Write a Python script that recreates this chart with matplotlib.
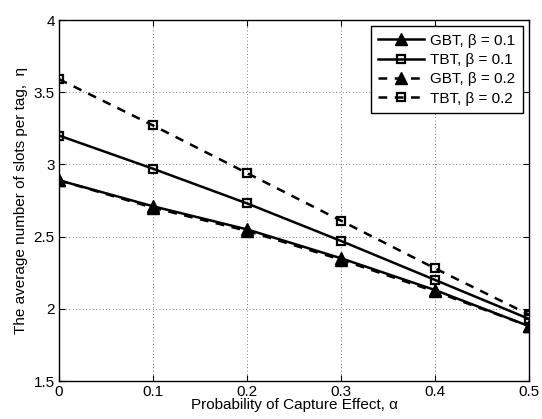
import matplotlib
matplotlib.use("Agg")
import matplotlib.pyplot as plt

plt.rcParams['font.family'] = ['Liberation Sans', 'DejaVu Sans']

alpha = [0, 0.1, 0.2, 0.3, 0.4, 0.5]
gbt_01 = [2.89, 2.71, 2.55, 2.35, 2.13, 1.88]
tbt_01 = [3.20, 2.97, 2.73, 2.47, 2.20, 1.93]
gbt_02 = [2.89, 2.70, 2.54, 2.34, 2.12, 1.88]
tbt_02 = [3.59, 3.27, 2.94, 2.61, 2.28, 1.96]
labels = ['GBT, β = 0.1', 'TBT, β = 0.1', 'GBT, β = 0.2', 'TBT, β = 0.2']

fig = plt.figure(figsize=(5.42, 4.19), dpi=100)
ax = fig.add_axes([59/542, 1-381/419, (529-59)/542, (381-20)/419])

lw = 1.8
ax.plot(alpha, gbt_01, '-', color='black', lw=lw, marker='^', ms=8, mfc='black', mec='black', label=labels[0])
ax.plot(alpha, tbt_01, '-', color='black', lw=lw, marker='s', ms=6, mfc='none', mec='black', mew=1.6, label=labels[1])
ax.plot(alpha, gbt_02, color='black', lw=lw, ls=(0, (3.5, 3)), marker='^', ms=8, mfc='black', mec='black', label=labels[2])
ax.plot(alpha, tbt_02, color='black', lw=lw, ls=(0, (3.5, 3)), marker='s', ms=6, mfc='none', mec='black', mew=1.6, label=labels[3])

ax.set_xlim(0, 0.5)
ax.set_ylim(1.5, 4)
ax.set_xticks([0, 0.1, 0.2, 0.3, 0.4, 0.5])
ax.set_xticklabels(['0', '0.1', '0.2', '0.3', '0.4', '0.5'])
ax.set_yticks([1.5, 2, 2.5, 3, 3.5, 4])
ax.set_yticklabels(['1.5', '2', '2.5', '3', '3.5', '4'])
ax.tick_params(direction='in', top=True, right=True, labelsize=11, length=4, width=0.8, pad=3)
ax.grid(True, ls=(0, (1, 3)), color='black', lw=0.6, alpha=0.7)
for s in ax.spines.values():
    s.set_linewidth(1.0)

ax.set_xlabel('Probability of Capture Effect, α', fontsize=11, labelpad=-1)
ax.set_ylabel('The average number of slots per tag,  η', fontsize=11, labelpad=4)

leg = ax.legend(loc='upper right', fontsize=11, frameon=True, fancybox=False,
                edgecolor='black', framealpha=1, borderaxespad=0.4,
                handlelength=3.0, handletextpad=0.4, labelspacing=0.35, borderpad=0.5)
leg.get_frame().set_linewidth(1.0)

fig.savefig('out.png', dpi=100)
